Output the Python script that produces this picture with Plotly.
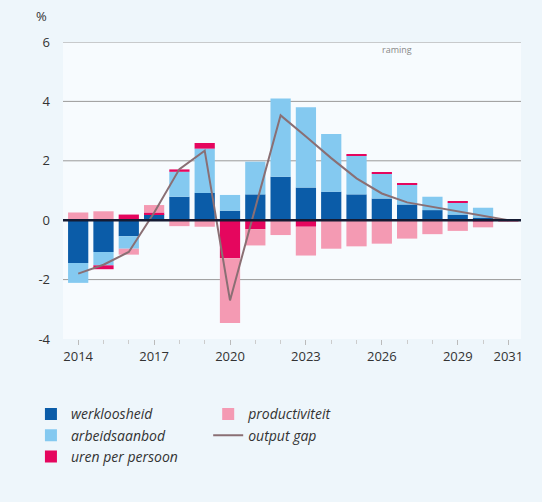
import plotly.graph_objects as go

years = list(range(2014, 2032))

werkloosheid = [-1.44, -1.07, -0.54, 0.20, 0.79, 0.92, 0.32, 0.87, 1.46, 1.10, 0.96, 0.87, 0.73, 0.53, 0.34, 0.19, 0.09, 0.00]
arbeidsaanbod = [-0.67, -0.45, -0.42, 0.00, 0.84, 1.49, 0.53, 1.10, 2.64, 2.70, 1.94, 1.31, 0.83, 0.66, 0.45, 0.40, 0.33, 0.00]
uren_per_persoon = [0.00, -0.13, 0.19, 0.06, 0.08, 0.19, -1.28, -0.30, 0.00, -0.22, 0.00, 0.05, 0.05, 0.03, 0.00, 0.03, -0.04, 0.00]
productiviteit = [0.26, 0.30, -0.20, 0.25, -0.20, -0.22, -2.18, -0.55, -0.50, -0.97, -0.96, -0.88, -0.79, -0.62, -0.47, -0.36, -0.20, -0.05]
output_gap = [-1.80, -1.50, -1.07, 0.25, 1.72, 2.34, -2.70, 0.40, 3.53, 2.82, 2.09, 1.41, 0.90, 0.60, 0.45, 0.30, 0.15, 0.00]

tick_years = [2014, 2017, 2020, 2023, 2026, 2029, 2031]
y_ticks = [-4, -2, 0, 2, 4, 6]
grid_vals = [-2, 2, 4, 6]

C_WERK = "#0b5ca8"
C_ARB = "#84c9f0"
C_UREN = "#e5065e"
C_PROD = "#f49ab3"
C_GAP = "#8a6f74"

FONT = "Open Sans"

fig = go.Figure()
fig.add_trace(go.Bar(x=years, y=werkloosheid, name="werkloosheid", marker_color=C_WERK,
                     marker_line_width=0, legend="legend", legendgroup="a"))
fig.add_trace(go.Bar(x=years, y=arbeidsaanbod, name="arbeidsaanbod", marker_color=C_ARB,
                     marker_line_width=0, legend="legend", legendgroup="b"))
fig.add_trace(go.Bar(x=years, y=uren_per_persoon, name="uren per persoon", marker_color=C_UREN,
                     marker_line_width=0, legend="legend", legendgroup="c"))
fig.add_trace(go.Bar(x=years, y=productiviteit, name="productiviteit", marker_color=C_PROD,
                     marker_line_width=0, legend="legend2", legendgroup="d"))
fig.add_trace(go.Scatter(x=years, y=output_gap, name="output gap", mode="lines",
                         line=dict(color=C_GAP, width=2), legend="legend2", legendgroup="e"))

for g in grid_vals:
    fig.add_hline(y=g, line_color="#9a9a9a", line_width=1, layer="below")
fig.add_hline(y=0, line_color="#151b33", line_width=2.5, layer="above")

legend_font = dict(family=FONT, size=14, color="#333333", style="italic")

fig.update_layout(
    width=542, height=502,
    barmode="relative", bargap=0.2,
    paper_bgcolor="#eef6fb", plot_bgcolor="#f7fbfe",
    margin=dict(l=63, r=21, t=42, b=163),
    font=dict(family=FONT, size=13, color="#333333"),
    xaxis=dict(range=[2013.4, 2031.5], tickvals=tick_years, ticktext=[str(t) for t in tick_years],
               showgrid=False, zeroline=False, showline=False,
               ticks="outside", ticklen=5, tickcolor="#bbbbbb",
               minor=dict(dtick=1, tick0=2014, ticks="outside", ticklen=4, tickcolor="#cccccc", showgrid=False),
               tickfont=dict(size=13, color="#333333")),
    yaxis=dict(range=[-4, 6], tickvals=y_ticks, ticktext=[str(v) for v in y_ticks],
               showgrid=False, zeroline=False, showline=False, ticklabelstandoff=12,
               tickfont=dict(size=13, color="#333333")),
    legend=dict(x=-0.07, y=-0.2, xanchor="left", yanchor="top", bgcolor="rgba(0,0,0,0)",
                font=legend_font, traceorder="normal", itemwidth=30, tracegroupgap=4),
    legend2=dict(x=0.317, y=-0.2, xanchor="left", yanchor="top", bgcolor="rgba(0,0,0,0)",
                 font=legend_font, traceorder="normal", itemwidth=30, tracegroupgap=4),
    annotations=[
        dict(text="%", xref="paper", yref="paper", x=-0.046, y=1.0, yshift=26, xanchor="center",
             yanchor="middle", showarrow=False, font=dict(size=13, color="#333333")),
        dict(text="raming", xref="x", yref="y", x=2026.6, y=5.75, showarrow=False,
             font=dict(size=9, color="#888888")),
    ],
)

fig.write_html("out.html", config={"displayModeBar": False},
               post_script="document.body.style.margin='0';")
